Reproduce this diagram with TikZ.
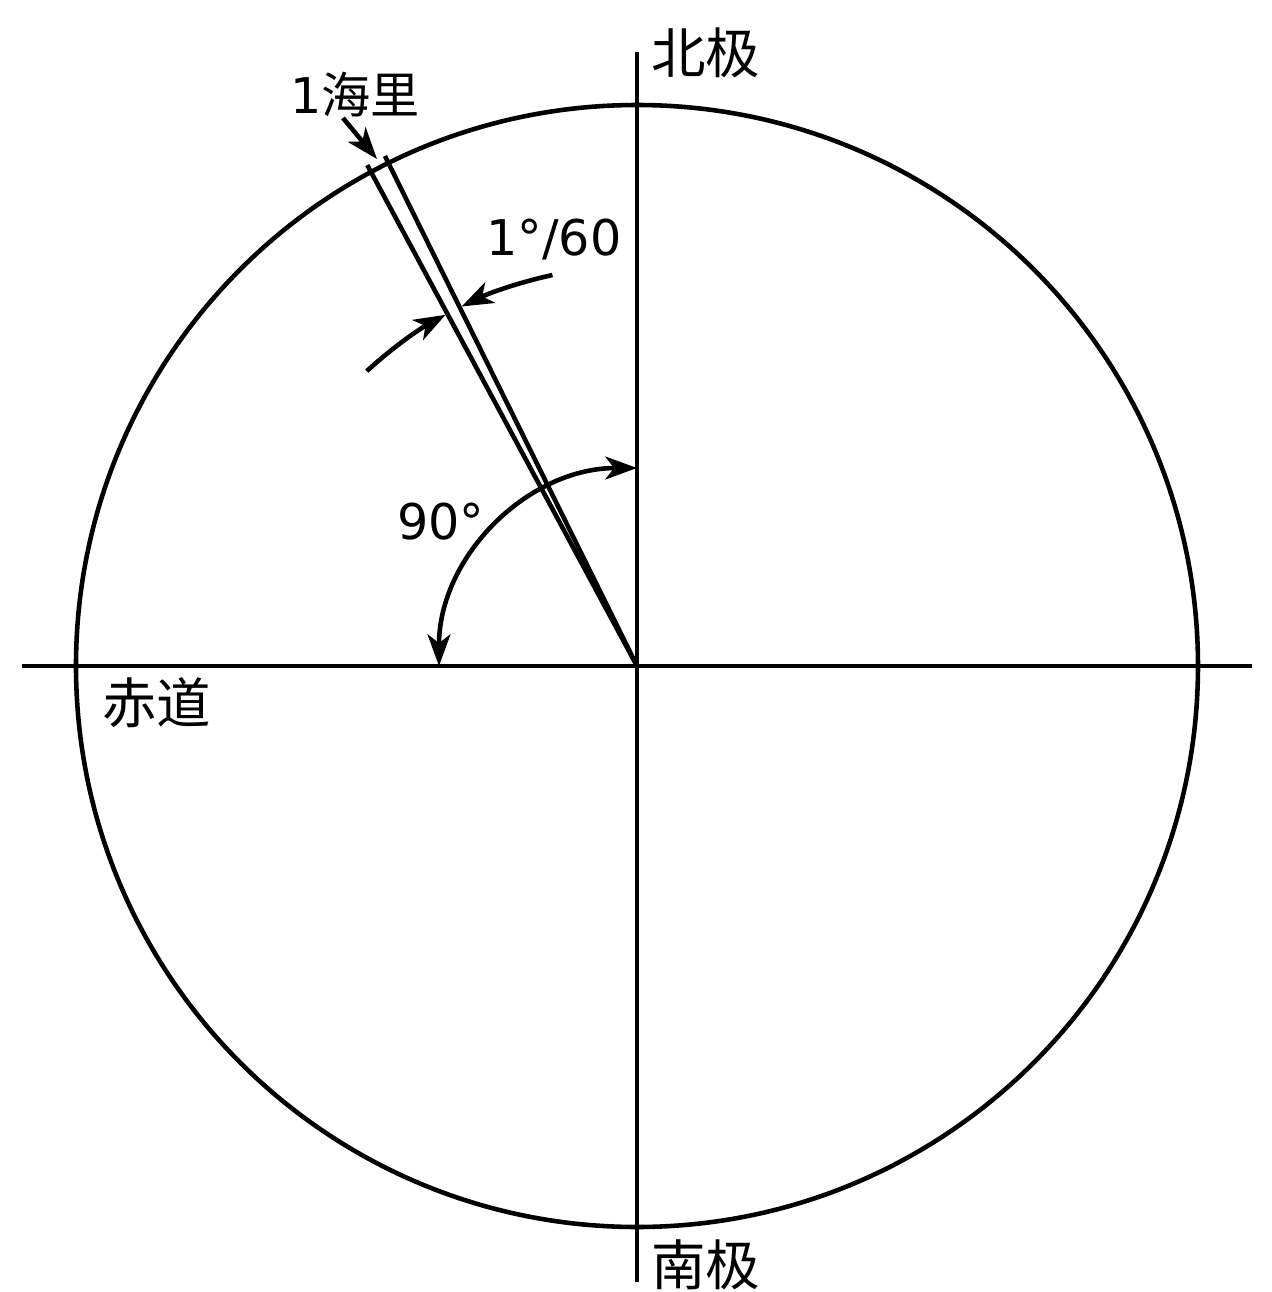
\documentclass[tikz,border=0pt]{standalone}
\usepackage{fontspec}
\setmainfont{DejaVu Sans}
\newfontfamily\cjk{Noto Sans CJK SC}
\usepackage{tikz}
\usetikzlibrary{arrows.meta}

\begin{document}
\begin{tikzpicture}
\tikzset{>={Stealth[length=9pt,width=6.5pt,inset=2.5pt]}}
\tikzstyle{line} =[line width=1.3pt]
\tikzstyle{lbl} =[inner sep=0pt,font=\fontsize{14}{16}\selectfont]
\tikzstyle{cjklbl} =[inner sep=0pt,font=\fontsize{15.5}{18}\selectfont\cjk]

\useasboundingbox (-6.37,-6.26) rectangle (6.35,6.66);

\coordinate (O) at (0,0);
\coordinate (W) at (-6.15,0);
\coordinate (E) at (6.15,0);
\coordinate (N) at (0,6.14);
\coordinate (S) at (0,-6.16);
\coordinate (r1) at (118.3:5.69);
\coordinate (r2) at (116.3:5.69);

\node[cjklbl](np) at (0.69,6.13){北极};
\node[cjklbl](sp) at (0.69,-5.99){南极};
\node[cjklbl](eq) at (-4.80,-0.37){赤道};
\node[lbl](nm) at (-2.82,5.71){1{\cjk 海里}};
\node[lbl](ang) at (-0.83,4.26){1°/60};
\node[lbl](right) at (-1.96,1.44){90°};

\draw [line] (O) circle (5.61);
\draw [line] (W) -- (E);
\draw [line] (N) -- (S);
\draw [line] (O) -- (r1);
\draw [line] (O) -- (r2);

\draw [->,line] (132.5:4.0) arc[start angle=132.5,end angle=118.6,radius=4.0];
\draw [->,line] (102.2:4.0) arc[start angle=102.2,end angle=116.0,radius=4.0];
\draw [<->,line] (0,1.98) arc[start angle=90,end angle=180,radius=1.98];
\draw [->,line] (-2.94,5.48) -- (-2.60,5.07);
\end{tikzpicture}
\end{document}
